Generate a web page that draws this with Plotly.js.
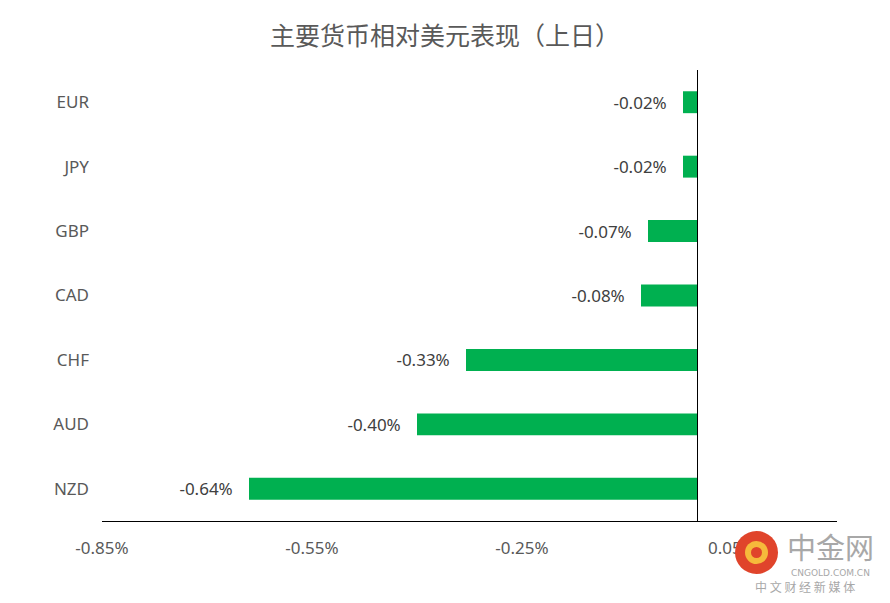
<!DOCTYPE html>
<html>
<head>
<meta charset="utf-8">
<script src="https://cdn.plot.ly/plotly-3.0.1.min.js"></script>
<style>html,body{margin:0;padding:0;background:#fff;}#chart{width:890px;height:603px;}</style>
</head>
<body>
<div id="chart"></div>
<script>
const currencies = ["EUR", "JPY", "GBP", "CAD", "CHF", "AUD", "NZD"];
const changes = [-0.02, -0.02, -0.07, -0.08, -0.33, -0.40, -0.64];
const tickValues = [-0.85, -0.55, -0.25, 0.05];
const tickLabels = ["-0.85%", "-0.55%", "-0.25%", "0.05%"];
const titleText = "主要货币相对美元表现（上日）";

const pad = "\u00A0\u00A0\u00A0";
const trace = {
  type: "bar",
  orientation: "h",
  y: currencies,
  x: changes,
  marker: {color: "#00B050"},
  width: 0.34,
  text: changes.map(v => v.toFixed(2) + "%" + pad),
  textposition: "outside",
  constraintext: "none",
  cliponaxis: false,
  textfont: {family: "Noto Sans, sans-serif", size: 17, color: "#404040"},
  hoverinfo: "none"
};

const layout = {
  width: 890, height: 603,
  margin: {l: 102, r: 53, t: 70, b: 82},
  paper_bgcolor: "#fff", plot_bgcolor: "#fff",
  showlegend: false,
  title: {text: titleText, x: 0.5, xanchor: "center", y: 0.94, yanchor: "middle",
    font: {family: "Noto Sans CJK SC, sans-serif", size: 25, color: "#595959"}},
  xaxis: {
    range: [-0.85, 0.2], tickvals: tickValues, ticktext: tickLabels,
    showgrid: false, zeroline: true, zerolinecolor: "#000", zerolinewidth: 1,
    showline: true, linecolor: "#000", linewidth: 1.3, ticks: "",
    tickfont: {family: "Noto Sans, sans-serif", size: 17, color: "#595959"},
    ticklabelstandoff: 11
  },
  yaxis: {
    range: [6.5, -0.5], type: "category", showgrid: false, zeroline: false, showline: false, ticks: "",
    tickfont: {family: "Noto Sans, sans-serif", size: 17, color: "#595959"},
    ticklabelstandoff: 12
  },
  shapes: [
    {type: "circle", xref: "paper", yref: "paper", x0: (735-102)/735, x1: (778-102)/735, y0: (603-574-82)/451, y1: (603-531-82)/451,
     fillcolor: "#E0442B", line: {width: 0}, layer: "above"},
    {type: "circle", xref: "paper", yref: "paper", x0: (745-102)/735, x1: (768-102)/735, y0: (603-564-82)/451, y1: (603-541-82)/451,
     fillcolor: "#F6B93B", line: {width: 0}, layer: "above"},
    {type: "circle", xref: "paper", yref: "paper", x0: (751-102)/735, x1: (762-102)/735, y0: (603-558-82)/451, y1: (603-547-82)/451,
     fillcolor: "#E0442B", line: {width: 0}, layer: "above"}
  ],
  annotations: [
    {text: "中金网", xref: "paper", yref: "paper", x: (830-102)/735, y: (603-546-82)/451, xanchor: "center", yanchor: "middle",
     showarrow: false, font: {family: "Noto Sans CJK SC, sans-serif", size: 29, color: "#A8A8A8"}},
    {text: "CNGOLD.COM.CN", xref: "paper", yref: "paper", x: (830-102)/735, y: (603-573-82)/451, xanchor: "center", yanchor: "middle",
     showarrow: false, font: {family: "DejaVu Sans, sans-serif", size: 9, color: "#A8A8A8"}},
    {text: "中 文 财 经 新 媒 体", xref: "paper", yref: "paper", x: (805-102)/735, y: (603-586-82)/451, xanchor: "center", yanchor: "middle",
     showarrow: false, font: {family: "Noto Sans CJK SC, sans-serif", size: 12, color: "#A8A8A8"}}
  ]
};

Plotly.newPlot("chart", [trace], layout, {displayModeBar: false, staticPlot: true});
</script>
</body>
</html>
